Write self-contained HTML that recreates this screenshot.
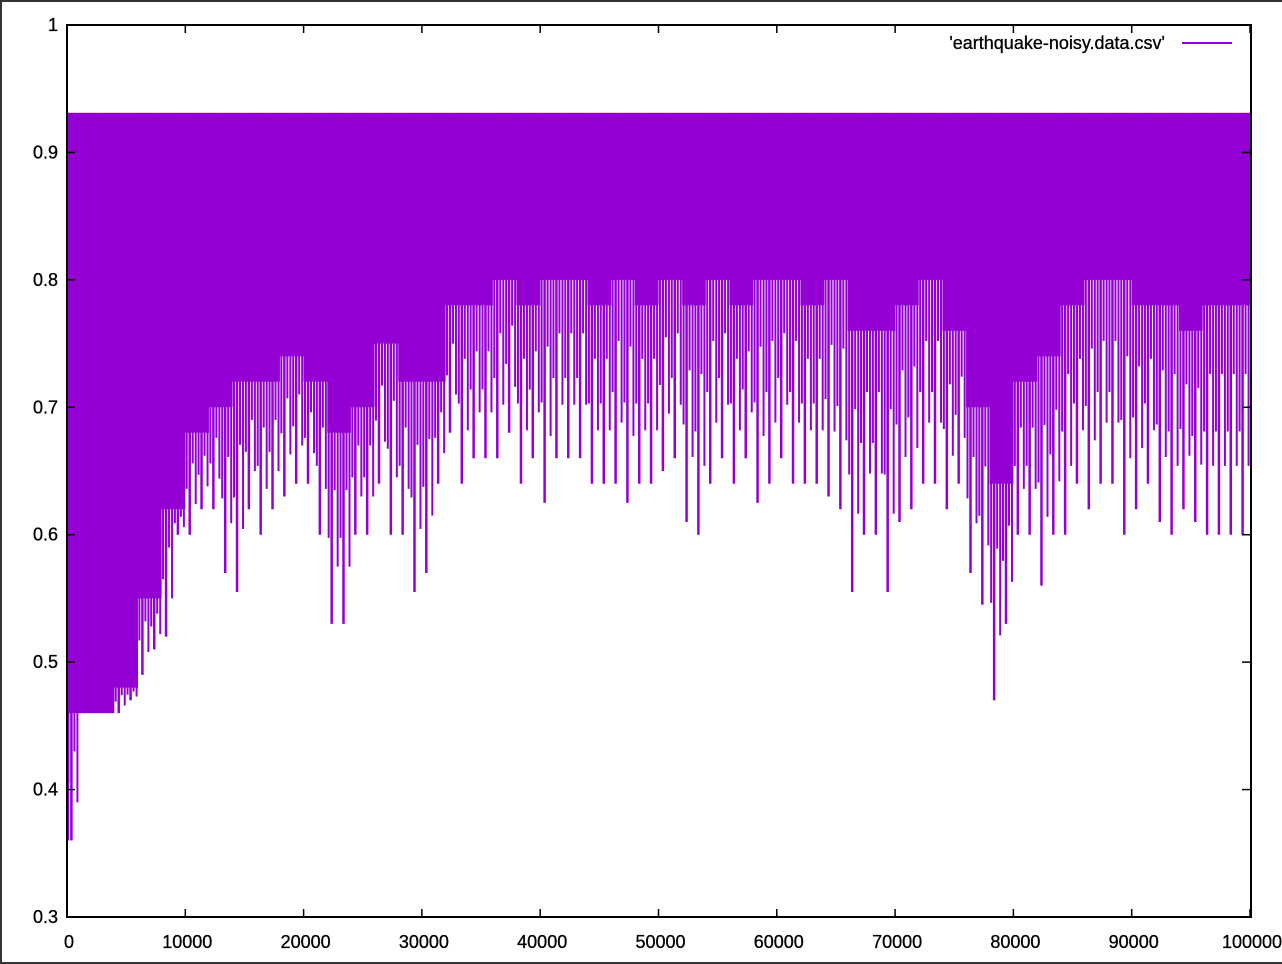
<!DOCTYPE html>
<html><head><meta charset="utf-8"><style>
html,body{margin:0;padding:0;background:#fff;}
#wrap{width:1282px;height:964px;position:relative;box-sizing:border-box;border:2px solid #333;border-right:none;overflow:hidden;}
svg text{font-family:"Liberation Sans",sans-serif;font-size:18px;fill:#000;stroke:#000;stroke-width:0.3px;}
</style></head><body>
<div id="wrap">
<svg id="chart" width="1282" height="964" style="position:absolute;left:-2px;top:-2px"></svg>
</div>
<script>
const xTicks=[0,10000,20000,30000,40000,50000,60000,70000,80000,90000,100000];
const xTickLabels=["0","10000","20000","30000","40000","50000","60000","70000","80000","90000","100000"];
const yTicks=[0.3,0.4,0.5,0.6,0.7,0.8,0.9,1];
const yTickLabels=["0.3","0.4","0.5","0.6","0.7","0.8","0.9","1"];
const seriesName="'earthquake-noisy.data.csv'";
const upperValue=0.931;
// minimum per 1000-step bucket
const minX=[0,1000,2000,3000,4000,5000,6000,7000,8000,9000,10000,11000,12000,13000,14000,15000,16000,17000,18000,19000,20000,21000,22000,23000,24000,25000,26000,27000,28000,29000,30000,31000,32000,33000,34000,35000,36000,37000,38000,39000,40000,41000,42000,43000,44000,45000,46000,47000,48000,49000,50000,51000,52000,53000,54000,55000,56000,57000,58000,59000,60000,61000,62000,63000,64000,65000,66000,67000,68000,69000,70000,71000,72000,73000,74000,75000,76000,77000,78000,79000,80000,81000,82000,83000,84000,85000,86000,87000,88000,89000,90000,91000,92000,93000,94000,95000,96000,97000,98000,99000];
const minValues=[0.36,0.46,0.46,0.46,0.46,0.47,0.49,0.51,0.52,0.6,0.6,0.62,0.62,0.57,0.555,0.62,0.6,0.62,0.63,0.64,0.64,0.6,0.53,0.53,0.6,0.6,0.64,0.6,0.6,0.555,0.57,0.64,0.68,0.64,0.66,0.66,0.66,0.68,0.64,0.66,0.625,0.66,0.66,0.66,0.64,0.64,0.64,0.625,0.64,0.64,0.65,0.66,0.61,0.6,0.64,0.66,0.64,0.66,0.625,0.64,0.66,0.64,0.64,0.64,0.63,0.62,0.555,0.6,0.6,0.555,0.61,0.62,0.64,0.64,0.62,0.64,0.57,0.545,0.47,0.53,0.6,0.6,0.56,0.6,0.6,0.64,0.62,0.64,0.64,0.6,0.62,0.64,0.61,0.6,0.62,0.61,0.6,0.6,0.6,0.6];
// typical dense lower level per 2000-step bucket
const denseX=[0,2000,4000,6000,8000,10000,12000,14000,16000,18000,20000,22000,24000,26000,28000,30000,32000,34000,36000,38000,40000,42000,44000,46000,48000,50000,52000,54000,56000,58000,60000,62000,64000,66000,68000,70000,72000,74000,76000,78000,80000,82000,84000,86000,88000,90000,92000,94000,96000,98000,100000];
const denseValues=[0.46,0.46,0.48,0.55,0.62,0.68,0.7,0.72,0.72,0.74,0.72,0.68,0.7,0.75,0.72,0.72,0.78,0.78,0.8,0.78,0.8,0.8,0.78,0.8,0.78,0.8,0.78,0.8,0.78,0.8,0.8,0.78,0.8,0.76,0.76,0.78,0.8,0.76,0.7,0.64,0.72,0.74,0.78,0.8,0.8,0.78,0.78,0.76,0.78,0.78,0.79];

const L=67,R=1250,T=25,B=917;
const xs=v=>L+(v-0)/(100000-0)*(R-L);
const ys=v=>B-(v-0.3)/(1-0.3)*(B-T);
const NS="http://www.w3.org/2000/svg";
const svg=document.getElementById('chart');
function mk(tag,attrs,parent){const e=document.createElementNS(NS,tag);for(const k in attrs)e.setAttribute(k,attrs[k]);(parent||svg).appendChild(e);return e;}
const COL="#9400d3";
const g=mk('g',{});


let d=`M${xs(denseX[0])},${ys(upperValue)}`;
for(let i=0;i<denseX.length;i++){
  const x0=xs(denseX[i]);const x1=i<denseX.length-1?xs(denseX[i+1]):xs(denseX[i]);
  d+=` L${x0},${ys(denseValues[i])} L${x1},${ys(denseValues[i])}`;
}
d+=` L${xs(100000)},${ys(upperValue)} Z`;
const area=mk('path',{d:d,fill:COL,stroke:'none'},g);


for(let i=0;i<minX.length;i++){
  const x=xs(minX[i]+500);
  const dv=denseValues[Math.floor(minX[i]/2000)];
  const span=dv-minValues[i];
  const parts=[[-4.5,0.55,2],[-1.5,1,2.5],[1.5,0.3,2],[4.5,0.7,2]];
  for(const [off,frac,w] of parts){
    const lv=dv-span*frac;
    const ln=mk('line',{x1:x+off,x2:x+off,y1:ys(upperValue),y2:ys(lv),stroke:COL,'stroke-width':w},g);
    
    
  }
}
const s0=mk('line',{x1:xs(0)+1,x2:xs(0)+1,y1:ys(0.931),y2:ys(minValues[0]),stroke:COL,'stroke-width':2},g);



const fr=mk('rect',{x:L,y:T,width:R-L+1,height:B-T,fill:'none',stroke:'#000','stroke-width':2});


xTicks.forEach((v,i)=>{
  const x=xs(v);
  const t1=mk('line',{x1:x,x2:x,y1:B,y2:B-8,stroke:'#000','stroke-width':1.5});
  
  
  const t2=mk('line',{x1:x,x2:x,y1:T,y2:T+8,stroke:'#000','stroke-width':1.5});
  
  
  const tx=mk('text',{x:x+2,y:948,'text-anchor':'middle'});
  tx.textContent=xTickLabels[i];
  
  
});
yTicks.forEach((v,i)=>{
  const y=ys(v);
  const t1=mk('line',{x1:L,x2:L+8,y1:y,y2:y,stroke:'#000','stroke-width':1.5});
  
  
  const t2=mk('line',{x1:R,x2:R-8,y1:y,y2:y,stroke:'#000','stroke-width':1.5});
  
  
  const tx=mk('text',{x:58,y:y+6,'text-anchor':'end'});
  tx.textContent=yTickLabels[i];
  
  
});
const lt=mk('text',{x:1165,y:49,'text-anchor':'end'});
lt.textContent=seriesName;


const ll=mk('line',{x1:1182,x2:1232,y1:43,y2:43,stroke:COL,'stroke-width':2});


</script>
</body></html>
